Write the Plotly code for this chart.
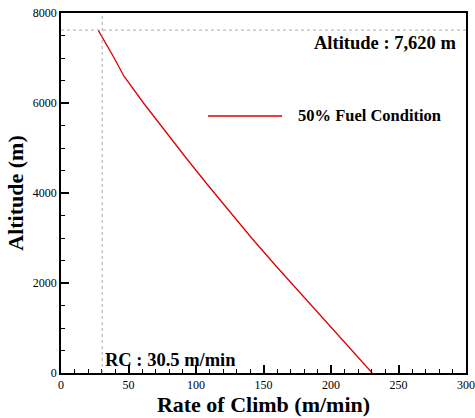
import plotly.graph_objects as go

# Data
altitude_m = [0, 600, 1200, 1800, 2400, 3000, 3600, 4200, 4800, 5400, 6000, 6600, 7000, 7620]
rate_of_climb = [230.5, 212.5, 194.5, 176.2, 158.6, 141.2, 124.5, 108.1, 92.1, 76.5, 61.1, 46.5, 39.4, 27.5]
series_name = "50% Fuel Condition"
service_ceiling_alt = 7620
service_ceiling_rc = 30.5
x_ticks = [0, 50, 100, 150, 200, 250, 300]
y_ticks = [0, 2000, 4000, 6000, 8000]

FONT = "Liberation Serif"

fig = go.Figure()
fig.add_trace(go.Scatter(
    x=rate_of_climb, y=altitude_m, mode="lines", name=series_name,
    line=dict(color="#e00000", width=1.3), showlegend=False,
))

# reference lines
fig.add_shape(type="line", xref="x", yref="paper", x0=service_ceiling_rc, x1=service_ceiling_rc,
              y0=0, y1=1, line=dict(color="#aaaaaa", width=1, dash="dot"))
fig.add_shape(type="line", xref="paper", yref="y", x0=0, x1=1,
              y0=service_ceiling_alt, y1=service_ceiling_alt, line=dict(color="#aaaaaa", width=1, dash="dot"))

# legend sample
fig.add_shape(type="line", xref="paper", yref="paper", x0=0.363, x1=0.546, y0=0.714, y1=0.714,
              line=dict(color="#e00000", width=1.5))
fig.add_annotation(xref="paper", yref="paper", x=0.580, y=0.714, xanchor="left", yanchor="middle",
                   text="<b>" + series_name + "</b>", showarrow=False,
                   font=dict(family=FONT, size=16.5, color="black"))

fig.add_annotation(xref="paper", yref="y", x=0.98, y=service_ceiling_alt, xanchor="right", yanchor="top",
                   yshift=-1, text="<b>Altitude : 7,620 m</b>", showarrow=False,
                   font=dict(family=FONT, size=18.5, color="black"))
fig.add_annotation(xref="x", yref="paper", x=service_ceiling_rc, y=0, xanchor="left", yanchor="bottom",
                   xshift=1, yshift=1, text="<b>RC : 30.5 m/min</b>", showarrow=False,
                   font=dict(family=FONT, size=18.5, color="black"))

axis_common = dict(
    showgrid=False, zeroline=False, showline=True, linecolor="black", linewidth=1.5,
    mirror=True, ticks="inside", ticklen=8, tickwidth=1.5, tickcolor="black",
    tickfont=dict(family=FONT, size=12, color="black"), automargin=False,
)

fig.update_xaxes(
    range=[0, 300], tickvals=x_ticks, ticktext=[str(v) for v in x_ticks],
    title=dict(text="<b>Rate of Climb (m/min)</b>", font=dict(family=FONT, size=22, color="black"), standoff=4),
    minor=dict(dtick=10, ticks="inside", ticklen=4, tickwidth=1, tickcolor="black", showgrid=False),
    **axis_common,
)
fig.update_yaxes(
    range=[0, 8000], tickvals=y_ticks, ticktext=[str(v) for v in y_ticks],
    title=dict(text="<b>Altitude (m)</b>", font=dict(family=FONT, size=22, color="black"), standoff=3),
    minor=dict(dtick=500, ticks="inside", ticklen=4, tickwidth=1, tickcolor="black", showgrid=False),
    **axis_common,
)

fig.update_layout(
    width=475, height=418,
    margin=dict(l=61, r=9, t=13, b=45),
    plot_bgcolor="white", paper_bgcolor="white",
    font=dict(family=FONT, color="black"),
)

fig.write_html("out.html")
